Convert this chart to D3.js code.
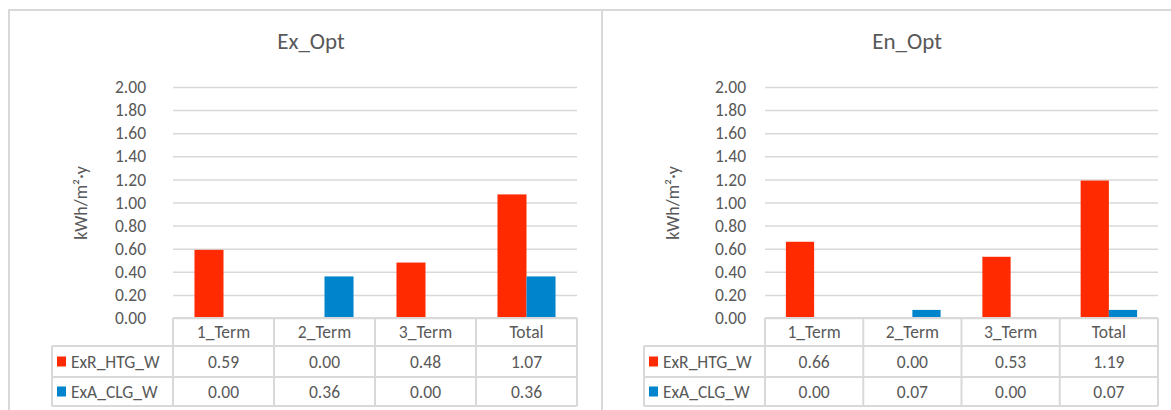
<!DOCTYPE html>
<html>
<head>
<meta charset="utf-8">
<script src="https://cdn.jsdelivr.net/npm/d3@7"></script>
<style>
  html, body { margin: 0; padding: 0; background: #ffffff; }
  svg { display: block; }
  text { font-family: Carlito, Calibri, Lato, "Open Sans", sans-serif; fill: #595959; }
</style>
</head>
<body>
<svg id="chart" width="1171" height="410"></svg>
<script>
// Categories, series and values
const categories = ["1_Term", "2_Term", "3_Term", "Total"];
const seriesNames = ["ExR_HTG_W", "ExA_CLG_W"];
const exOptHtg = [0.59, 0.00, 0.48, 1.07];
const exOptClg = [0.00, 0.36, 0.00, 0.36];
const enOptHtg = [0.66, 0.00, 0.53, 1.19];
const enOptClg = [0.00, 0.07, 0.00, 0.07];
const yTickValues = [0.00, 0.20, 0.40, 0.60, 0.80, 1.00, 1.20, 1.40, 1.60, 1.80, 2.00];
const yAxisLabel = "kWh/m²·y";
const chartTitles = ["Ex_Opt", "En_Opt"];

const seriesColors = ["#ff2a00", "#0084cc"];
const lineColor = "#d9d9d9";
const textSize = "17.5px";

// Panel geometry
const panels = [
  { title: chartTitles[0], htg: exOptHtg, clg: exOptClg,
    titleX: 311, plotLeft: 173, plotRight: 577, tickPad: 27,
    axisLabelX: 81, legendLeft: 52 },
  { title: chartTitles[1], htg: enOptHtg, clg: enOptClg,
    titleX: 907, plotLeft: 765, plotRight: 1158, tickPad: 19,
    axisLabelX: 673, legendLeft: 644 }
];

const plotTop = 87, plotBottom = 318;
const rowLines = [318, 346, 377, 406];
const fmt = d3.format(".2f");

const svg = d3.select("#chart");

// Outer frames of both chart areas
svg.append("path")
  .attr("d", `M9,430 V10 H1180`)
  .attr("fill", "none").attr("stroke", lineColor).attr("stroke-width", 2);
svg.append("line")
  .attr("x1", 602).attr("x2", 602).attr("y1", 10).attr("y2", 430)
  .attr("stroke", lineColor).attr("stroke-width", 2);

panels.forEach(p => {
  const g = svg.append("g");

  const y = d3.scaleLinear().domain([0, 2]).range([plotBottom, plotTop]);
  const x = d3.scaleBand().domain(categories).range([p.plotLeft, p.plotRight]);
  const xs = d3.scaleBand().domain(seriesNames).range([0, x.bandwidth()]).paddingOuter(0.74);

  // Title
  g.append("text")
    .attr("x", p.titleX).attr("y", 49)
    .attr("text-anchor", "middle")
    .style("font-size", "23px")
    .text(p.title);

  // Gridlines and tick labels
  const axis = d3.axisLeft(y)
    .tickValues(yTickValues)
    .tickFormat(fmt)
    .tickSizeInner(-(p.plotRight - p.plotLeft))
    .tickSizeOuter(0)
    .tickPadding(p.tickPad);
  const ag = g.append("g")
    .attr("transform", `translate(${p.plotLeft},0)`)
    .call(axis);
  ag.select(".domain").remove();
  ag.selectAll(".tick line")
    .attr("stroke", lineColor).attr("stroke-width", 1.5);
  ag.selectAll(".tick text")
    .attr("fill", "#595959")
    .style("font-size", textSize)
    .style("font-family", "Carlito, Calibri, Lato, 'Open Sans', sans-serif");

  // Axis title
  g.append("text")
    .attr("transform", `translate(${p.axisLabelX},203) rotate(-90)`)
    .attr("text-anchor", "middle")
    .attr("dominant-baseline", "central")
    .style("font-size", "18px")
    .text(yAxisLabel);

  // Bars
  const rows = [p.htg, p.clg];
  rows.forEach((vals, si) => {
    g.append("g").selectAll("rect")
      .data(categories.map((c, i) => ({ c, v: vals[i] })))
      .join("rect")
      .attr("x", d => x(d.c) + xs(seriesNames[si]))
      .attr("width", xs.bandwidth())
      .attr("y", d => y(d.v))
      .attr("height", d => y(0) - y(d.v))
      .attr("fill", seriesColors[si]);
  });

  // Data table beneath the plot
  const tg = g.append("g");
  const colEdges = categories.map(c => x(c)).concat([p.plotRight]);
  const stroke = sel => sel.attr("stroke", lineColor).attr("stroke-width", 2).attr("fill", "none");

  // horizontal rules
  tg.append("line").attr("x1", p.plotLeft).attr("x2", p.plotRight)
    .attr("y1", rowLines[0]).attr("y2", rowLines[0]).call(stroke);
  rowLines.slice(1).forEach(yy => {
    tg.append("line").attr("x1", p.legendLeft).attr("x2", p.plotRight)
      .attr("y1", yy).attr("y2", yy).call(stroke);
  });
  // vertical rules
  colEdges.forEach(xx => {
    tg.append("line").attr("x1", xx).attr("x2", xx)
      .attr("y1", rowLines[0]).attr("y2", rowLines[3]).call(stroke);
  });
  tg.append("line").attr("x1", p.legendLeft).attr("x2", p.legendLeft)
    .attr("y1", rowLines[1]).attr("y2", rowLines[3]).call(stroke);

  // category header
  categories.forEach(c => {
    tg.append("text")
      .attr("x", x(c) + x.bandwidth() / 2)
      .attr("y", (rowLines[0] + rowLines[1]) / 2)
      .attr("text-anchor", "middle").attr("dominant-baseline", "central")
      .style("font-size", textSize)
      .text(c);
  });

  // series rows
  rows.forEach((vals, si) => {
    const cy = (rowLines[si + 1] + rowLines[si + 2]) / 2;
    tg.append("rect")
      .attr("x", p.legendLeft + 5).attr("y", cy - 5)
      .attr("width", 9).attr("height", 10)
      .attr("fill", seriesColors[si]);
    tg.append("text")
      .attr("x", p.legendLeft + 19).attr("y", cy)
      .attr("dominant-baseline", "central")
      .style("font-size", textSize)
      .text(seriesNames[si]);
    categories.forEach((c, i) => {
      tg.append("text")
        .attr("x", x(c) + x.bandwidth() / 2).attr("y", cy)
        .attr("text-anchor", "middle").attr("dominant-baseline", "central")
        .style("font-size", textSize)
        .text(fmt(vals[i]));
    });
  });
});
</script>
</body>
</html>
